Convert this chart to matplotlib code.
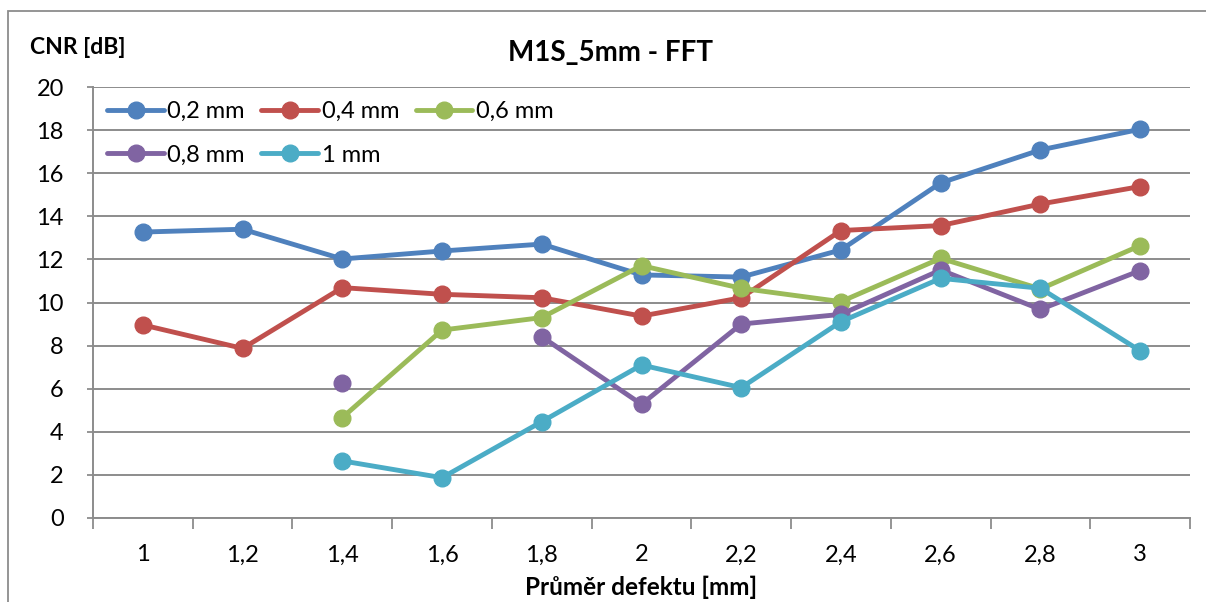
import numpy as np
import matplotlib
matplotlib.use("Agg")
import matplotlib.pyplot as plt
from matplotlib.patches import Rectangle

plt.rcParams['font.family'] = ['Lato', 'DejaVu Sans']

categories = ["1", "1,2", "1,4", "1,6", "1,8", "2", "2,2", "2,4", "2,6", "2,8", "3"]
nan = np.nan
cnr_02 = [13.27, 13.40, 12.02, 12.39, 12.71, 11.28, 11.18, 12.44, 15.55, 17.08, 18.04]
cnr_04 = [8.96, 7.87, 10.69, 10.38, 10.22, 9.37, 10.22, 13.34, 13.57, 14.57, 15.38]
cnr_06 = [nan, nan, 4.66, 8.72, 9.30, 11.71, 10.66, 10.04, 12.05, 10.63, 12.64]
cnr_08 = [nan, nan, 6.28, nan, 8.41, 5.28, 9.00, 9.45, 11.51, 9.68, 11.48]
cnr_10 = [nan, nan, 2.65, 1.87, 4.47, 7.10, 6.05, 9.11, 11.12, 10.66, 7.76]
series_labels = ["0,2 mm", "0,4 mm", "0,6 mm", "0,8 mm", "1 mm"]
colors = ["#4F81BD", "#C0504D", "#9BBB59", "#8064A2", "#4BACC6"]
yticks = [0, 2, 4, 6, 8, 10, 12, 14, 16, 18, 20]

W, H = 1206, 602
fig = plt.figure(figsize=(W / 100, H / 100), dpi=100)
fig.patch.set_facecolor("white")

# chart frame (top and left edges visible)
fig.add_artist(Rectangle((8 / W, -0.05), 1.2, 1 - 11 / H + 0.05,
                         transform=fig.transFigure, fill=False,
                         edgecolor="#8C8C8C", linewidth=1.3))

ax = fig.add_axes([93 / W, 1 - 518 / H, (1190 - 93) / W, (518 - 87) / H])
x = np.arange(len(categories))

handles = []
for vals, lab, col in zip([cnr_02, cnr_04, cnr_06, cnr_08, cnr_10], series_labels, colors):
    h, = ax.plot(x, vals, color=col, linewidth=3.5, marker="o", markersize=12,
                 label=lab, solid_capstyle="round", zorder=3)
    handles.append(h)

ax.set_xlim(-0.5, len(categories) - 0.5)
ax.set_ylim(0, 20)
ax.set_yticks(yticks)
ax.set_yticklabels([str(v) for v in yticks])
ax.set_xticks(x)
ax.set_xticklabels(categories)
ax.set_xticks(np.arange(-0.5, len(categories)), minor=True)

ax.grid(axis="y", color="#8C8C8C", linewidth=1.4, zorder=0)
ax.set_axisbelow(True)
for s in ["top", "right"]:
    ax.spines[s].set_visible(False)
for s in ["left", "bottom"]:
    ax.spines[s].set_color("#8C8C8C")
    ax.spines[s].set_linewidth(1.4)

ax.tick_params(axis="x", which="major", length=0, pad=19, labelsize=17, colors="black")
ax.tick_params(axis="x", which="minor", length=8, width=1.3, color="#8C8C8C")
ax.tick_params(axis="y", which="major", length=4, width=1.3, color="#8C8C8C",
               pad=17, labelsize=17, labelcolor="black")

fig.text(611 / W, 1 - 53 / H, "M1S_5mm - FFT", fontsize=20, fontweight="bold",
         ha="center", va="center")
fig.text(30 / W, 1 - 48 / H, "CNR [dB]", fontsize=16.5, fontweight="bold",
         ha="left", va="center")
fig.text(641 / W, 1 - 587 / H, "Průměr defektu [mm]", fontsize=17.5, fontweight="bold",
         ha="center", va="center")

order = [0, 3, 1, 4, 2]
leg = ax.legend([handles[i] for i in order], [series_labels[i] for i in order],
                ncol=3, loc="upper left", bbox_to_anchor=(0.0, 1.0),
                frameon=False, fontsize=17, handlelength=2.4, handletextpad=0.15,
                columnspacing=0.7, labelspacing=0.95, borderaxespad=0.3,
                borderpad=0.3)

fig.savefig("out.png", dpi=100)
